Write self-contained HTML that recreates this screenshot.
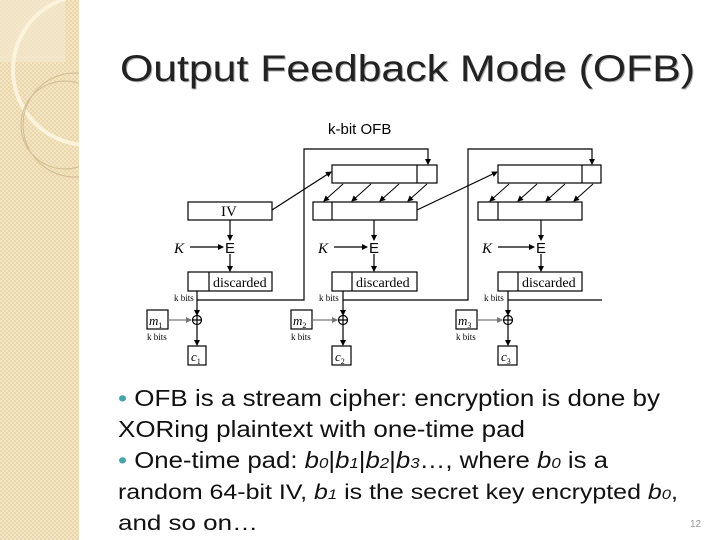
<!DOCTYPE html>
<html><head><meta charset="utf-8"><style>
html,body{margin:0;padding:0;background:#fff}
svg{display:block}
text{font-family:"Liberation Sans",sans-serif}
.s{font-family:"Liberation Serif",serif}
</style></head><body>
<svg width="720" height="540" viewBox="0 0 720 540" xmlns="http://www.w3.org/2000/svg">
<defs>
<pattern id="chk" width="4" height="4" patternUnits="userSpaceOnUse">
<rect width="4" height="4" fill="#ead7aa"/><rect width="2" height="2" fill="#f2e4c4"/><rect x="2" y="2" width="2" height="2" fill="#f2e4c4"/>
</pattern>
<marker id="a" markerWidth="6" markerHeight="6" refX="5" refY="3" orient="auto" markerUnits="userSpaceOnUse"><path d="M0,0 L6,3 L0,6z" fill="#000"/></marker>
<marker id="g" markerWidth="6" markerHeight="6" refX="5" refY="3" orient="auto" markerUnits="userSpaceOnUse"><path d="M0,0 L6,3 L0,6z" fill="#777"/></marker>
<clipPath id="cl"><rect width="79" height="540"/></clipPath>
</defs>
<rect width="79" height="540" fill="url(#chk)"/>
<g clip-path="url(#cl)" fill="none">
<rect x="0" y="0" width="65" height="62" fill="#f4e9d2" opacity="0.6"/>
<circle cx="88" cy="70" r="75" stroke="#fbf3dc" stroke-width="4"/>
<circle cx="65" cy="125" r="44" stroke="#d2bd92" stroke-width="1"/>
<circle cx="75" cy="125" r="52" stroke="#d2bd92" stroke-width="1"/>
</g>
<text x="121" y="82" font-size="37" fill="#aaa" textLength="575" lengthAdjust="spacingAndGlyphs">Output Feedback Mode (OFB)</text>
<text x="120" y="81" font-size="37" fill="#222" textLength="575" lengthAdjust="spacingAndGlyphs">Output Feedback Mode (OFB)</text>
<text x="328" y="134" font-size="15" fill="#000">k-bit OFB</text>

<g stroke="#000" stroke-width="1.2" fill="#fff">
<rect x="188" y="202" width="84" height="18"/>
<rect x="188" y="272" width="84" height="19"/><line x1="209" y1="272" x2="209" y2="291"/>
<rect x="188" y="346" width="18" height="19"/>
<rect x="147" y="310" width="21" height="19"/>
<rect x="332" y="165" width="105" height="18"/><line x1="417" y1="165" x2="417" y2="183"/>
<rect x="313" y="202" width="104" height="18"/><line x1="332" y1="202" x2="332" y2="220"/>
<rect x="332" y="272" width="85" height="19"/><line x1="352" y1="272" x2="352" y2="291"/>
<rect x="332" y="346" width="19" height="19"/>
<rect x="291" y="310" width="21" height="19"/>
<rect x="498" y="165" width="103" height="18"/><line x1="582" y1="165" x2="582" y2="183"/>
<rect x="478" y="202" width="104" height="18"/><line x1="498" y1="202" x2="498" y2="220"/>
<rect x="498" y="272" width="84" height="19"/><line x1="518" y1="272" x2="518" y2="291"/>
<rect x="498" y="346" width="19" height="19"/>
<rect x="456" y="310" width="21" height="19"/>
</g>
<g stroke="#000" stroke-width="1.2" fill="none">
<line x1="230" y1="220" x2="230" y2="240" marker-end="url(#a)"/>
<line x1="230" y1="254" x2="230" y2="271" marker-end="url(#a)"/>
<line x1="197" y1="291" x2="197" y2="315" marker-end="url(#a)"/>
<line x1="197" y1="325" x2="197" y2="345" marker-end="url(#a)"/>
<polyline points="197,300 304,300 304,149 428,149 428,164" marker-end="url(#a)"/>
<line x1="272" y1="210" x2="331" y2="172" marker-end="url(#a)"/>
<line x1="190" y1="247" x2="223" y2="247" marker-end="url(#a)"/>

<line x1="374" y1="220" x2="374" y2="240" marker-end="url(#a)"/>
<line x1="374" y1="254" x2="374" y2="271" marker-end="url(#a)"/>
<line x1="343" y1="291" x2="343" y2="315" marker-end="url(#a)"/>
<line x1="343" y1="325" x2="343" y2="345" marker-end="url(#a)"/>
<polyline points="343,300 468,300 468,149 592,149 592,164" marker-end="url(#a)"/>
<line x1="417" y1="210" x2="497" y2="172" marker-end="url(#a)"/>
<line x1="334" y1="247" x2="367" y2="247" marker-end="url(#a)"/>

<line x1="541" y1="220" x2="541" y2="240" marker-end="url(#a)"/>
<line x1="541" y1="254" x2="541" y2="271" marker-end="url(#a)"/>
<line x1="508" y1="291" x2="508" y2="315" marker-end="url(#a)"/>
<line x1="508" y1="325" x2="508" y2="345" marker-end="url(#a)"/>
<line x1="508" y1="300" x2="602" y2="300"/>
<line x1="498" y1="247" x2="534" y2="247" marker-end="url(#a)"/>
<g stroke-width="1">
<line x1="343" y1="184" x2="324" y2="201" marker-end="url(#a)"/>
<line x1="371" y1="184" x2="352" y2="201" marker-end="url(#a)"/>
<line x1="399" y1="184" x2="380" y2="201" marker-end="url(#a)"/>
<line x1="427" y1="184" x2="408" y2="201" marker-end="url(#a)"/>
<line x1="509" y1="184" x2="490" y2="201" marker-end="url(#a)"/>
<line x1="537" y1="184" x2="518" y2="201" marker-end="url(#a)"/>
<line x1="565" y1="184" x2="546" y2="201" marker-end="url(#a)"/>
<line x1="593" y1="184" x2="574" y2="201" marker-end="url(#a)"/>
</g>
<line x1="168" y1="320" x2="191" y2="320" stroke="#777" marker-end="url(#g)"/>
<line x1="312" y1="320" x2="337" y2="320" stroke="#777" marker-end="url(#g)"/>
<line x1="477" y1="320" x2="502" y2="320" stroke="#777" marker-end="url(#g)"/>
<circle cx="197" cy="320" r="4.5" fill="#fff"/><path d="M192.5,320h9M197,315.5v9"/>
<circle cx="343" cy="320" r="4.5" fill="#fff"/><path d="M338.5,320h9M343,315.5v9"/>
<circle cx="508" cy="320" r="4.5" fill="#fff"/><path d="M503.5,320h9M508,315.5v9"/>
</g>
<g font-size="14" fill="#000">
<text class="s" x="221" y="216" font-size="15">IV</text>
<text x="225" y="253" font-size="15">E</text><text x="369" y="253" font-size="15">E</text><text x="536" y="253" font-size="15">E</text>
<text class="s" x="174" y="253" font-style="italic" font-size="15">K</text>
<text class="s" x="318" y="253" font-style="italic" font-size="15">K</text>
<text class="s" x="482" y="253" font-style="italic" font-size="15">K</text>
<text class="s" x="213" y="287">discarded</text>
<text class="s" x="356" y="287">discarded</text>
<text class="s" x="522" y="287">discarded</text>
<text class="s" x="174" y="301" font-size="9">k bits</text>
<text class="s" x="319" y="301" font-size="9">k bits</text>
<text class="s" x="484" y="301" font-size="9">k bits</text>
<text class="s" x="147" y="340" font-size="9">k bits</text>
<text class="s" x="291" y="340" font-size="9">k bits</text>
<text class="s" x="456" y="340" font-size="9">k bits</text>
<text class="s" x="149" y="325" font-style="italic" font-size="13">m<tspan font-size="8" font-style="normal" dy="3">1</tspan></text>
<text class="s" x="293" y="325" font-style="italic" font-size="13">m<tspan font-size="8" font-style="normal" dy="3">2</tspan></text>
<text class="s" x="458" y="325" font-style="italic" font-size="13">m<tspan font-size="8" font-style="normal" dy="3">3</tspan></text>
<text class="s" x="191" y="361" font-style="italic" font-size="13">c<tspan font-size="8" font-style="normal" dy="3">1</tspan></text>
<text class="s" x="335" y="361" font-style="italic" font-size="13">c<tspan font-size="8" font-style="normal" dy="3">2</tspan></text>
<text class="s" x="501" y="361" font-style="italic" font-size="13">c<tspan font-size="8" font-style="normal" dy="3">3</tspan></text>
</g>
<g font-size="23" fill="#111">
<text x="118" y="406" textLength="542" lengthAdjust="spacingAndGlyphs"><tspan fill="#4aa3a8">•</tspan> OFB is a stream cipher: encryption is done by</text>
<text x="118" y="437" textLength="407" lengthAdjust="spacingAndGlyphs">XORing plaintext with one-time pad</text>
<text x="118" y="468" textLength="490" lengthAdjust="spacingAndGlyphs"><tspan fill="#4aa3a8">•</tspan>  One-time pad: <tspan font-style="italic">b</tspan><tspan font-size="15" font-style="italic">0</tspan>|<tspan font-style="italic">b</tspan><tspan font-size="15" font-style="italic">1</tspan>|<tspan font-style="italic">b</tspan><tspan font-size="15" font-style="italic">2</tspan>|<tspan font-style="italic">b</tspan><tspan font-size="15" font-style="italic">3</tspan>…, where <tspan font-style="italic">b</tspan><tspan font-size="15" font-style="italic">0</tspan> is a</text>
<text x="118" y="499" font-size="21" textLength="560" lengthAdjust="spacingAndGlyphs">random 64-bit IV, <tspan font-style="italic">b</tspan><tspan font-size="14" font-style="italic">1</tspan> is the secret key encrypted <tspan font-style="italic">b</tspan><tspan font-size="14" font-style="italic">0</tspan>,</text>
<text x="118" y="530" font-size="21" textLength="140" lengthAdjust="spacingAndGlyphs">and so on…</text>
</g>
<text x="690" y="527" font-size="10" fill="#999">12</text>
</svg>
</body></html>
